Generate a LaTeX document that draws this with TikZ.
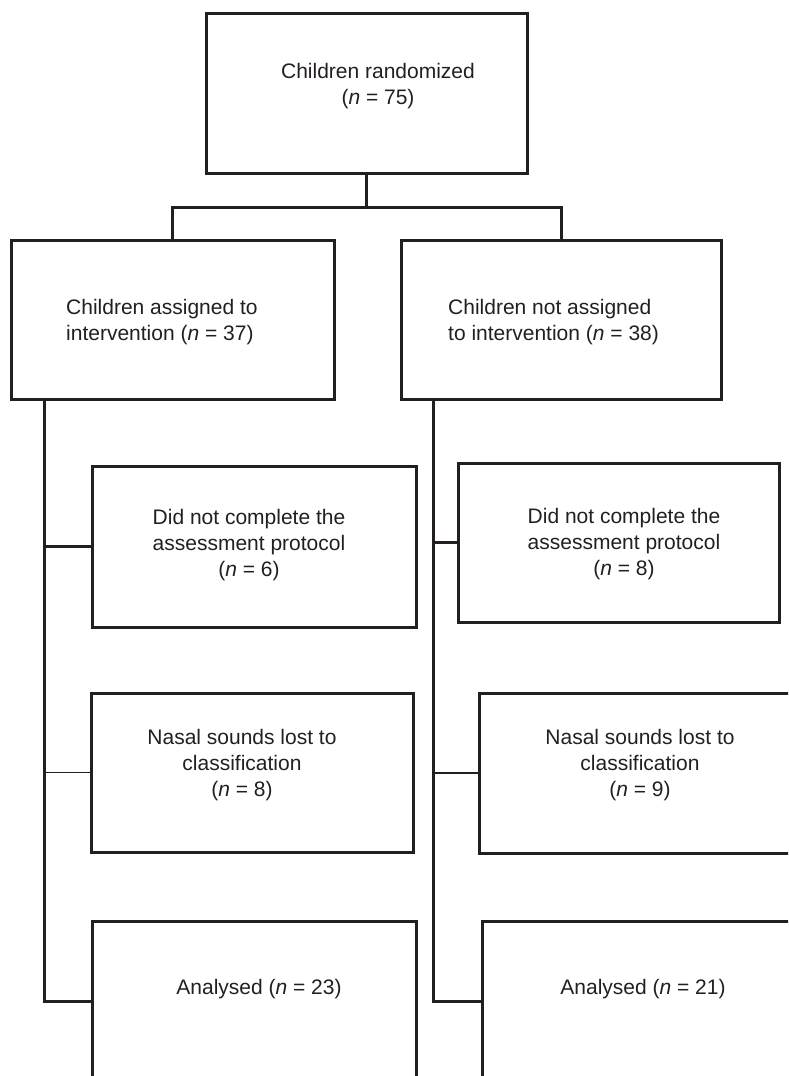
\documentclass[tikz,border=0pt]{standalone}
\usepackage{fontspec}
\setmainfont{Liberation Sans}
\usepackage{xcolor}
\usepackage{tikz}
\usetikzlibrary{arrows.meta,calc}
\definecolor{ink}{RGB}{35,31,32}

\begin{document}
\begin{tikzpicture}[x=1pt, y=-1pt,
         B/.style = {draw=ink, line width=3pt, rectangle, inner sep=0pt, outer sep=0pt,
                     minimum width=#1},
         B/.default = 322pt,
         T/.style = {inner sep=0pt, text=ink, align=center,
                     font=\fontsize{21}{26}\selectfont},
         W/.style = {draw=ink, line width=3pt, line join=miter},
     thinW/.style = {draw=ink, line width=1.1pt}
                    ]
\useasboundingbox (0,0) rectangle (788,1076);
\clip (0,0) rectangle (788,1076);

% boxes
\node[B=321pt, minimum height=160pt] (rand) at (366.5,93)    {};
\node[B=323pt, minimum height=159pt] (int)  at (172.5,319.5) {};
\node[B=320pt, minimum height=159pt] (ctl)  at (561,319.5)   {};
\node[B=324pt, minimum height=161pt] (dncA) at (254,546.5)   {};
\node[B=321pt, minimum height=159pt] (dncB) at (618.5,542.5) {};
\node[B,       minimum height=159pt] (nasA) at (252,772.5)   {};
\node[B,       minimum height=160pt] (nasB) at (640,773)     {};
\node[B=324pt, minimum height=160pt] (anaA) at (254,1001)    {};
\node[B,       minimum height=160pt] (anaB) at (643,1001)    {};

% texts
\node[T] (rand-t) at (378,86)  {Children randomized\\(\textit{n} = 75)};
\node[T, anchor=west, align=left] (int-t) at (66,322)
        {Children assigned to\\intervention (\textit{n} = 37)};
\node[T, anchor=west, align=left] (ctl-t) at (448,322)
        {Children not assigned\\to intervention (\textit{n} = 38)};
\node[T] (dncA-t) at (249,545) {Did not complete the\\assessment protocol\\(\textit{n} = 6)};
\node[T] (dncB-t) at (624,544) {Did not complete the\\assessment protocol\\(\textit{n} = 8)};
\node[T] (nasA-t) at (242,765) {Nasal sounds lost to\\classification\\(\textit{n} = 8)};
\node[T] (nasB-t) at (640,765) {Nasal sounds lost to\\classification\\(\textit{n} = 9)};
\node[T] (anaA-t) at (259,989) {Analysed (\textit{n} = 23)};
\node[T] (anaB-t) at (643,989) {Analysed (\textit{n} = 21)};

% spines
\coordinate (jA) at (44,0);
\coordinate (jB) at (433,0);

% connectors
\draw[W] (rand.south) -- ++(0,34) -| (int.north);
\draw[W] (rand.south) -- ++(0,34) -| (ctl.north);
\draw[W] (jA |- int.south) |- (anaA.west);
\draw[W] (jB |- ctl.south) |- (anaB.west);
\draw[W] (jA |- dncA.west) -- (dncA.west);
\draw[W] (jB |- dncB.west) -- (dncB.west);
\draw[thinW] (jA |- nasA.west) -- (nasA.west);
\draw[thinW] (jB |- nasB.west) -- (nasB.west);
\end{tikzpicture}
\end{document}
